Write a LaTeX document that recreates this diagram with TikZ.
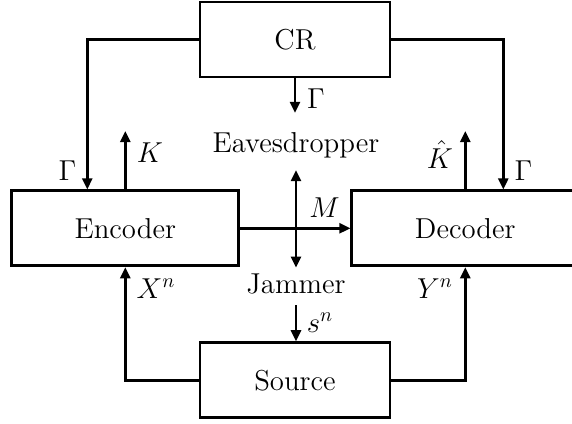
\documentclass[tikz,border=0pt]{standalone}
\usetikzlibrary{arrows.meta}
\begin{document}
\begin{tikzpicture}[x=0.5pt,y=-0.5pt,
  every node/.style={font=\Large},
  blk/.style={draw,line width=1.35pt,inner sep=0pt,minimum height=37.5pt},
  arr/.style={line width=1.35pt,-{Triangle[length=5.6pt,width=5pt]}},
  darr/.style={line width=1.35pt,{Triangle[length=5.6pt,width=5pt]}-{Triangle[length=5.6pt,width=5pt]}},
  lbl/.style={anchor=base,inner sep=0pt}]
\clip (0,0) rectangle (572,423);
% boxes
\node[blk,minimum width=95pt] (cr) at (295,39.5) {CR};
\node[blk,minimum width=113.5pt] (enc) at (125.3,228.3) {Encoder};
\node[blk,minimum width=113.5pt] (dec) at (465.3,228.3) {Decoder};
\node[blk,minimum width=95pt] (src) at (295,380.2) {Source};
% texts
\node[lbl] (eve) at (296,152) {Eavesdropper};
\node[lbl] (jam) at (296,293) {Jammer};
% free-end coordinates
\coordinate (gend) at (295,113);
\coordinate (kend) at (125.3,131);
\coordinate (khend) at (465.3,131);
\coordinate (etop) at (296,170);
\coordinate (ebot) at (296,267.7);
\coordinate (jtop) at (296,305);
% connectors
\draw[arr] (cr.west) -| ([xshift=-19pt]enc.north);
\draw[arr] (cr.east) -| ([xshift=19pt]dec.north);
\draw[arr] (cr.south) -- (gend);
\draw[arr] (enc.north) -- (kend);
\draw[arr] (dec.north) -- (khend);
\draw[darr] (etop) -- (ebot);
\draw[arr] (enc.east) -- (dec.west);
\draw[arr] (jtop) -- (src.north -| jtop);
\draw[arr] (src.west) -| (enc.south);
\draw[arr] (src.east) -| (dec.south);
% labels
\node[lbl] (lg1) at (67.5,180) {$\Gamma$};
\node[lbl] (lk) at (150,162) {$K$};
\node[lbl] (lg2) at (316,108) {$\Gamma$};
\node[lbl] (lkh) at (440,168) {$\hat{K}$};
\node[lbl] (lg3) at (523.5,180) {$\Gamma$};
\node[lbl] (lm) at (324.5,217) {$M$};
\node[lbl] (lx) at (156,298) {$X^n$};
\node[lbl] (ly) at (435,298) {$Y^n$};
\node[lbl] (ls) at (320,332) {$s^n$};
\end{tikzpicture}
\end{document}
